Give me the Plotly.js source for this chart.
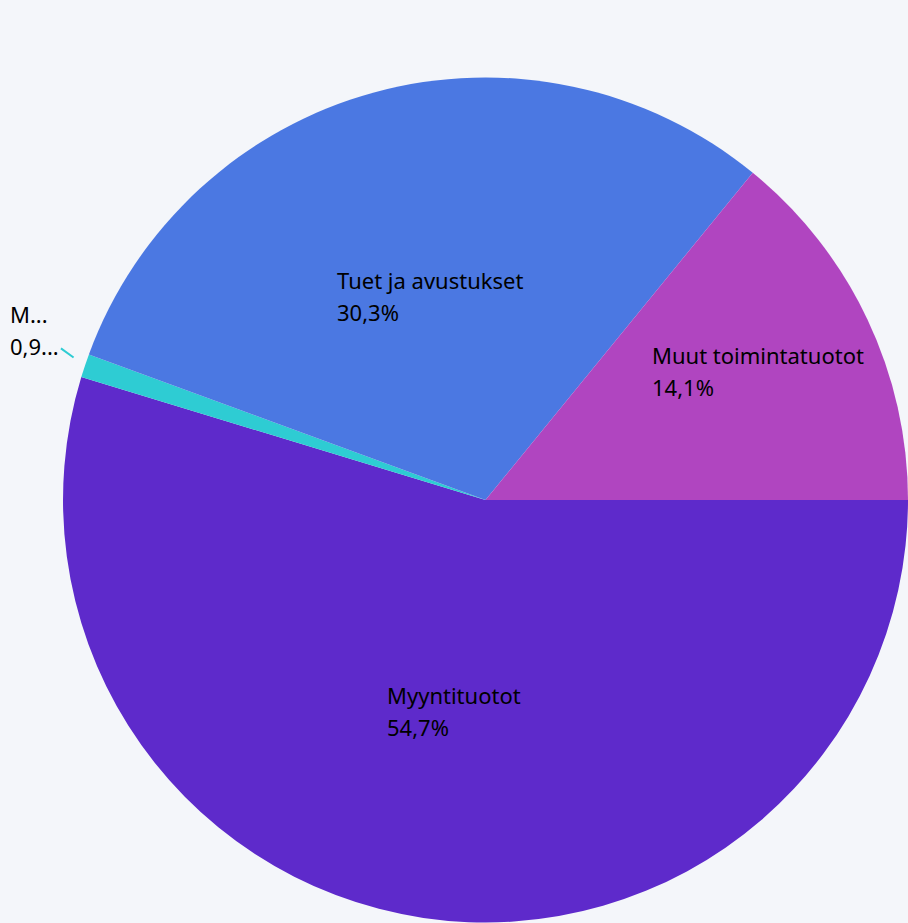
<!DOCTYPE html>
<html>
<head>
<meta charset="utf-8">
<script src="https://cdn.plot.ly/plotly-3.0.1.min.js"></script>
<style>
  html, body { margin: 0; padding: 0; background: #F4F6FA; }
  #chart { width: 908px; height: 923px; }
</style>
</head>
<body>
<div id="chart"></div>
<script>
// ---- data ----
const labels = ["Myyntituotot", "M...", "Tuet ja avustukset", "Muut toimintatuotot"];
const values = [54.7, 0.9, 30.3, 14.1];
const percentLabels = ["54,7%", "0,9...", "30,3%", "14,1%"];
const colors = ["#5E2ACB", "#2ECCD3", "#4B78E2", "#B045C0"];

// ---- layout config (not data) ----
const W = 908, H = 923;
const domainX = [0.0694, 1.0];
const domainY = [0.0, 0.9166];
const rotation = 90;            // first slice starts at 3 o'clock
const labelRadius = [0.506, null, 0.5, 0.714];   // fraction of radius, null = outside label
const fontFamily = "'Noto Sans', 'Open Sans', sans-serif";
const textSize = 22;

const cx = (domainX[0] + domainX[1]) / 2 * W;
const cy = (1 - (domainY[0] + domainY[1]) / 2) * H;
const r = Math.min((domainX[1] - domainX[0]) * W, (domainY[1] - domainY[0]) * H) / 2;

const total = values.reduce((a, b) => a + b, 0);
let cum = 0;
const annotations = [];
values.forEach((v, i) => {
  const midDeg = rotation + 360 * (cum + v / 2) / total;
  cum += v;
  const a = midDeg * Math.PI / 180;
  const dx = Math.sin(a), dy = -Math.cos(a);
  const txt = '<span style="font-size:' + textSize + 'px">' + labels[i] + '</span><br>' +
              '<span style="font-size:' + textSize + 'px">' + percentLabels[i] + '</span>';
  if (labelRadius[i] !== null) {
    const px = cx + dx * r * labelRadius[i];
    const py = cy + dy * r * labelRadius[i];
    annotations.push({
      xref: 'paper', yref: 'paper', x: px / W, y: 1 - py / H,
      xanchor: 'center', yanchor: 'middle', align: 'left',
      showarrow: false, text: txt,
      font: { family: fontFamily, size: 24.6, color: '#000000' }
    });
  } else {
    const px = cx + dx * r;
    const py = cy + dy * r;
    annotations.push({
      xref: 'paper', yref: 'paper', x: px / W, y: 1 - py / H,
      ax: -50, ay: -36, xanchor: 'center', yanchor: 'middle', align: 'left',
      showarrow: true, arrowhead: 0, arrowwidth: 2, arrowcolor: colors[i], standoff: 14,
      text: txt,
      font: { family: fontFamily, size: 24.6, color: '#000000' }
    });
  }
});

const trace = {
  type: 'pie',
  labels: labels,
  values: values,
  sort: false,
  direction: 'clockwise',
  rotation: rotation,
  marker: { colors: colors, line: { width: 0 } },
  textinfo: 'none',
  hoverinfo: 'skip',
  showlegend: false,
  domain: { x: domainX, y: domainY }
};

const layout = {
  width: W, height: H,
  margin: { l: 0, r: 0, t: 0, b: 0 },
  paper_bgcolor: '#F4F6FA',
  plot_bgcolor: '#F4F6FA',
  separators: ', ',
  showlegend: false,
  font: { family: fontFamily, color: '#000000' },
  annotations: annotations
};

Plotly.newPlot('chart', [trace], layout, { displayModeBar: false, staticPlot: true });
</script>
</body>
</html>
